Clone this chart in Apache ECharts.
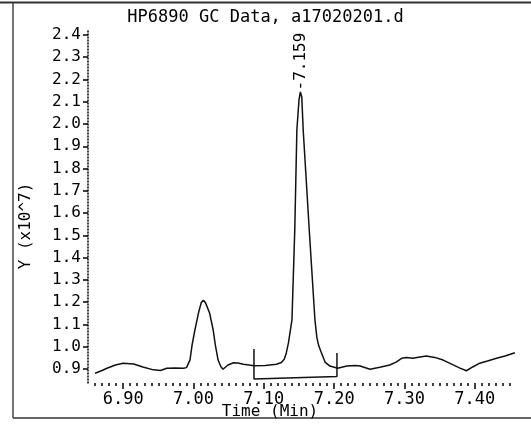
<!DOCTYPE html>
<html>
<head>
<meta charset="utf-8">
<script src="https://cdn.jsdelivr.net/npm/echarts@6/dist/echarts.min.js"></script>
<style>
html, body { margin: 0; padding: 0; background: #fff; }
#chart { width: 531px; height: 426px; }
</style>
</head>
<body>
<div id="chart"></div>
<script>
// trace (time in min, signal in 10^7)
var times = [6.860, 6.870, 6.877, 6.889, 6.900, 6.915, 6.928, 6.943, 6.953, 6.962, 6.974, 6.986, 6.990,
	6.995, 6.998, 7.002, 7.007, 7.011, 7.014, 7.017, 7.023, 7.028, 7.031, 7.035, 7.039, 7.042,
	7.049, 7.057, 7.063, 7.071, 7.086, 7.102, 7.118, 7.125, 7.129, 7.132, 7.135, 7.140,
	7.144, 7.147, 7.150, 7.152, 7.154, 7.156, 7.1646, 7.1727, 7.1755, 7.178,
	7.182, 7.187, 7.194, 7.205, 7.218, 7.230, 7.237, 7.251, 7.265, 7.279, 7.288,
	7.296, 7.303, 7.312, 7.322, 7.331, 7.343, 7.355, 7.367, 7.379, 7.388, 7.397, 7.407,
	7.418, 7.431, 7.443, 7.457];
var signal = [0.881, 0.893, 0.903, 0.918, 0.926, 0.922, 0.909, 0.896, 0.893, 0.903, 0.904, 0.903, 0.906,
	0.940, 1.008, 1.075, 1.150, 1.198, 1.208, 1.198, 1.150, 1.075, 1.008, 0.940, 0.910, 0.899,
	0.918, 0.928, 0.927, 0.921, 0.915, 0.916, 0.921, 0.929, 0.944, 0.972, 1.017, 1.120,
	1.524, 1.973, 2.108, 2.144, 2.120, 1.973, 1.524, 1.120, 1.040, 1.005,
	0.972, 0.931, 0.913, 0.903, 0.913, 0.916, 0.913, 0.899, 0.908, 0.918, 0.931,
	0.948, 0.952, 0.948, 0.954, 0.958, 0.952, 0.940, 0.922, 0.904, 0.892, 0.909, 0.926,
	0.936, 0.948, 0.958, 0.973];

// integration baseline bracket
var baseTimes = [7.086, 7.086, 7.204, 7.204];
var baseValues = [0.990, 0.855, 0.866, 0.972];

// peak annotation
var peakTime = 7.152;
var peakValue = 2.144;
var peakText = '7.159';

var xTicks = [6.90, 7.00, 7.10, 7.20, 7.30, 7.40];
var yTicks = [0.9, 1.0, 1.1, 1.2, 1.3, 1.4, 1.5, 1.6, 1.7, 1.8, 1.9, 2.0, 2.1, 2.2, 2.3, 2.4];

var FONT = 'DejaVu Sans Mono';

var xMinor = [];
for (var i = 686; i <= 745; i++) xMinor.push(i / 100);

var trace = times.map(function(t, k){ return [t, signal[k]]; });
var bracket = baseTimes.map(function(t, k){ return [t, baseValues[k]]; });

var myChart = echarts.init(document.getElementById('chart'));
var option = {
	animation: false,
	backgroundColor: '#fff',
	title: {
		text: 'HP6890 GC Data, a17020201.d',
		left: 'center',
		top: 4,
		textStyle: { fontFamily: FONT, fontSize: 17, fontWeight: 'normal', color: '#000' }
	},
	grid: { left: 88, right: 14, top: 30.5, bottom: 43 },
	xAxis: [{
		type: 'value',
		min: 6.85,
		max: 7.46,
		axisLine: { show: false },
		axisTick: { show: true, customValues: xMinor, length: 3, lineStyle: { color: '#000', width: 1.5 } },
		axisLabel: { show: false },
		splitLine: { show: false }
	}, {
		type: 'value',
		min: 6.85,
		max: 7.46,
		position: 'bottom',
		axisLine: { show: false },
		axisTick: { show: true, customValues: xTicks, length: 6, lineStyle: { color: '#000', width: 1.5 } },
		axisLabel: {
			customValues: xTicks,
			margin: 8,
			fontFamily: FONT,
			fontSize: 17,
			color: '#000',
			formatter: function(v){ return v.toFixed(2); }
		},
		splitLine: { show: false }
	}],
	yAxis: {
		type: 'value',
		min: 0.837,
		max: 2.42,
		axisLine: { show: true, lineStyle: { color: '#000', type: [1, 2], width: 1.5 } },
		axisTick: { show: true, customValues: yTicks, length: 5, lineStyle: { color: '#000', width: 1.5 } },
		axisLabel: {
			customValues: yTicks,
			margin: 7,
			fontFamily: FONT,
			fontSize: 16,
			color: '#000',
			formatter: function(v){ return v.toFixed(1); }
		},
		splitLine: { show: false }
	},
	series: [{
		type: 'line',
		data: trace,
		showSymbol: false,
		lineStyle: { color: '#111', width: 1.5 },
		markPoint: {
			symbol: 'circle',
			symbolSize: 1,
			itemStyle: { color: 'rgba(0,0,0,0)' },
			label: {
				show: true,
				position: 'top',
				rotate: 90,
				align: 'left',
				verticalAlign: 'middle',
				distance: 1,
				fontFamily: FONT,
				fontSize: 16,
				color: '#000',
				formatter: '-{b}'
			},
			data: [{ name: peakText, coord: [peakTime, peakValue] }]
		}
	}, {
		type: 'line',
		data: bracket,
		showSymbol: false,
		lineStyle: { color: '#111', width: 1.5 }
	}],
	graphic: [
		{ type: 'line', shape: { x1: 0, y1: 2.5, x2: 531, y2: 2.5 }, style: { stroke: '#333', lineWidth: 2 } },
		{ type: 'line', shape: { x1: 13, y1: 3, x2: 13, y2: 418 }, style: { stroke: '#444', lineWidth: 1.5 } },
		{ type: 'line', shape: { x1: 13, y1: 418, x2: 531, y2: 418 }, style: { stroke: '#333', lineWidth: 1.5 } },
		{
			type: 'text', x: 26, y: 226, rotation: Math.PI / 2,
			style: { text: 'Y (x10^7)', font: '16px "DejaVu Sans Mono"', fill: '#000', textAlign: 'center', textVerticalAlign: 'middle' }
		},
		{
			type: 'text', x: 270, y: 412,
			style: { text: 'Time (Min)', font: '16px "DejaVu Sans Mono"', fill: '#000', textAlign: 'center', textVerticalAlign: 'middle' }
		}
	]
};
myChart.setOption(option);
</script>
</body>
</html>
